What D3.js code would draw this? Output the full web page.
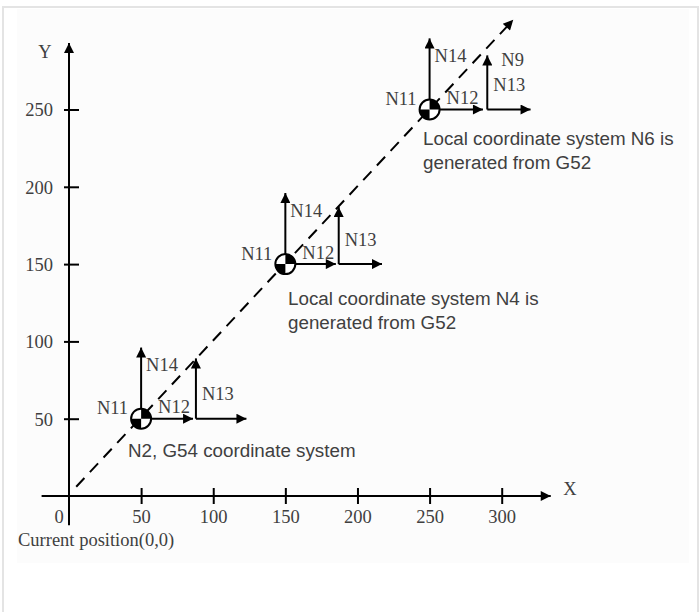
<!DOCTYPE html>
<html>
<head>
<meta charset="utf-8">
<script src="https://cdn.jsdelivr.net/npm/d3@7"></script>
<style>
  html, body { margin: 0; padding: 0; background: #fff; }
  svg { display: block; }
</style>
</head>
<body>
<div id="chart"></div>
<script>
// ---------- data ----------
const xTicks = [50, 100, 150, 200, 250, 300];
const yTicks = [50, 100, 150, 200, 250];
const xAxisRange = [-19, 334];
const yAxisRange = [-19, 293];
const pathStart = [5, 6];
const pathEnd = [308, 308];
const originX = [50, 150, 250];
const originY = [50, 150, 250];
const n12End = [86, 185, 287];       // end of first horizontal arrow (N12)
const n13X = [88, 187, 290];         // x of the N13 vertical arrow
const n13Top = [89, 187, 285];       // tip of N13 arrow
const xArrowEnd = [123, 217, 320];   // tip of long horizontal arrow
const n14Top = [96, 196, 296];       // tip of N14 arrow
const blockLabels = ["N11", "N12", "N13", "N14"];
const annotations = [
  ["N2, G54 coordinate system"],
  ["Local coordinate system N4 is", "generated from G52"],
  ["Local coordinate system N6 is", "generated from G52"]
];

// ---------- layout ----------
const W = 700, H = 612;
const svg = d3.select("#chart").append("svg").attr("width", W).attr("height", H);

svg.append("rect").attr("x", 3).attr("y", 7).attr("width", 695).attr("height", 612)
  .attr("fill", "#fff").attr("stroke", "#e4e4e4").attr("stroke-width", 2);
svg.append("rect").attr("x", 17).attr("y", 9).attr("width", 672).attr("height", 554)
  .attr("fill", "#fcfcfc");

const x = d3.scaleLinear().domain([0, 300]).range([69, 501.7]);
const y = d3.scaleLinear().domain([0, 250]).range([496, 109.5]);

const defs = svg.append("defs");
defs.append("marker").attr("id", "ah")
  .attr("viewBox", "0 0 10 10").attr("refX", 10).attr("refY", 5)
  .attr("markerWidth", 12).attr("markerHeight", 10)
  .attr("markerUnits", "userSpaceOnUse").attr("orient", "auto")
  .append("path").attr("d", "M0,0 L10,5 L0,10 Z").attr("fill", "#000");

const serif = "'Liberation Serif', 'Times New Roman', serif";
const sans = "'Liberation Sans', Arial, sans-serif";
const textCol = "#404040";

// axes lines
svg.append("line")
  .attr("x1", x(xAxisRange[0])).attr("x2", x(xAxisRange[1]))
  .attr("y1", y(0)).attr("y2", y(0))
  .attr("stroke", "#000").attr("stroke-width", 2).attr("marker-end", "url(#ah)");
svg.append("line")
  .attr("x1", x(0)).attr("x2", x(0))
  .attr("y1", y(yAxisRange[0])).attr("y2", y(yAxisRange[1]))
  .attr("stroke", "#000").attr("stroke-width", 2).attr("marker-end", "url(#ah)");

// x axis ticks
const gx = svg.append("g").attr("transform", `translate(0,${y(0)})`)
  .call(d3.axisBottom(x).tickValues(xTicks).tickSize(8).tickPadding(0).tickFormat(d3.format("d")));
gx.select(".domain").remove();
gx.selectAll(".tick line").attr("y1", -8).attr("y2", 8).attr("stroke", "#000").attr("stroke-width", 2);
gx.selectAll(".tick text").attr("y", 21).attr("dy", "0.35em")
  .attr("font-family", serif).attr("font-size", 18.5).attr("fill", textCol);

// y axis ticks
const gy = svg.append("g").attr("transform", `translate(${x(0)},0)`)
  .call(d3.axisLeft(y).tickValues(yTicks).tickSize(5).tickPadding(0).tickFormat(d3.format("d")));
gy.select(".domain").remove();
gy.selectAll(".tick line").attr("x1", -5).attr("x2", 10).attr("stroke", "#000").attr("stroke-width", 2);
gy.selectAll(".tick text").attr("x", -16).attr("dy", "0.35em")
  .attr("font-family", serif).attr("font-size", 18.5).attr("fill", textCol);

// axis labels
svg.append("text").attr("x", 59).attr("y", 517).attr("dy", "0.35em").attr("text-anchor", "middle")
  .attr("font-family", serif).attr("font-size", 18.5).attr("fill", textCol).text("0");
svg.append("text").attr("x", 18).attr("y", 540).attr("dy", "0.35em")
  .attr("font-family", serif).attr("font-size", 18.5).attr("fill", textCol).text("Current position(0,0)");
svg.append("text").attr("x", 45).attr("y", 52).attr("dy", "0.35em").attr("text-anchor", "middle")
  .attr("font-family", serif).attr("font-size", 18.5).attr("fill", textCol).text("Y");
svg.append("text").attr("x", 570).attr("y", 489).attr("dy", "0.35em").attr("text-anchor", "middle")
  .attr("font-family", serif).attr("font-size", 18.5).attr("fill", textCol).text("X");

// dashed path
svg.append("line")
  .attr("x1", x(pathStart[0])).attr("y1", y(pathStart[1]))
  .attr("x2", x(pathEnd[0])).attr("y2", y(pathEnd[1]))
  .attr("stroke", "#000").attr("stroke-width", 2).attr("stroke-dasharray", "12,8")
  .attr("marker-end", "url(#ah)");

// coordinate systems
const systems = originX.map((ox, i) => ({
  ox, oy: originY[i], n12: n12End[i], n13x: n13X[i], n13t: n13Top[i],
  xe: xArrowEnd[i], n14: n14Top[i]
}));

const arc = d3.arc().innerRadius(0).outerRadius(10);
const arrow = (g, x1, y1, x2, y2) => g.append("line")
  .attr("x1", x1).attr("y1", y1).attr("x2", x2).attr("y2", y2)
  .attr("stroke", "#000").attr("stroke-width", 2).attr("marker-end", "url(#ah)");

systems.forEach((s, i) => {
  const g = svg.append("g");
  const cx = x(s.ox), cy = y(s.oy);
  arrow(g, cx, cy, cx, y(s.n14));
  arrow(g, cx, cy, x(s.n12), cy);
  arrow(g, x(s.n13x), cy, x(s.xe), cy);
  arrow(g, x(s.n13x), cy, x(s.n13x), y(s.n13t));
  const sym = g.append("g").attr("transform", `translate(${cx},${cy})`);
  sym.append("circle").attr("r", 10).attr("fill", "#fff");
  sym.append("path").attr("d", arc({startAngle: 0, endAngle: Math.PI / 2})).attr("fill", "#000");
  sym.append("path").attr("d", arc({startAngle: Math.PI, endAngle: 1.5 * Math.PI})).attr("fill", "#000");
  sym.append("circle").attr("r", 10).attr("fill", "none").attr("stroke", "#000").attr("stroke-width", 2);

  const lab = (t, lx, ly, anchor) => g.append("text").attr("x", lx).attr("y", ly).attr("dy", "0.35em")
    .attr("text-anchor", anchor).attr("font-family", serif).attr("font-size", 18.5)
    .attr("fill", textCol).text(t);
  lab(blockLabels[0], cx - 13, cy - 11, "end");
  lab(blockLabels[1], cx + 17, cy - 12, "start");
  lab(blockLabels[2], x(s.n13x) + 6, cy - 25, "start");
  lab(blockLabels[3], cx + 5, cy - 54, "start");
  if (i === 2) lab("N9", x(s.n13x) + 14, cy - 50, "start");
});

// annotations
const annPos = [[128, 450], [288, 298], [423, 138]];
annotations.forEach((lines, i) => {
  lines.forEach((t, j) => {
    svg.append("text").attr("x", annPos[i][0]).attr("y", annPos[i][1] + j * 24.5).attr("dy", "0.35em")
      .attr("font-family", sans).attr("font-size", 18.8).attr("fill", textCol).text(t);
  });
});
</script>
</body>
</html>
